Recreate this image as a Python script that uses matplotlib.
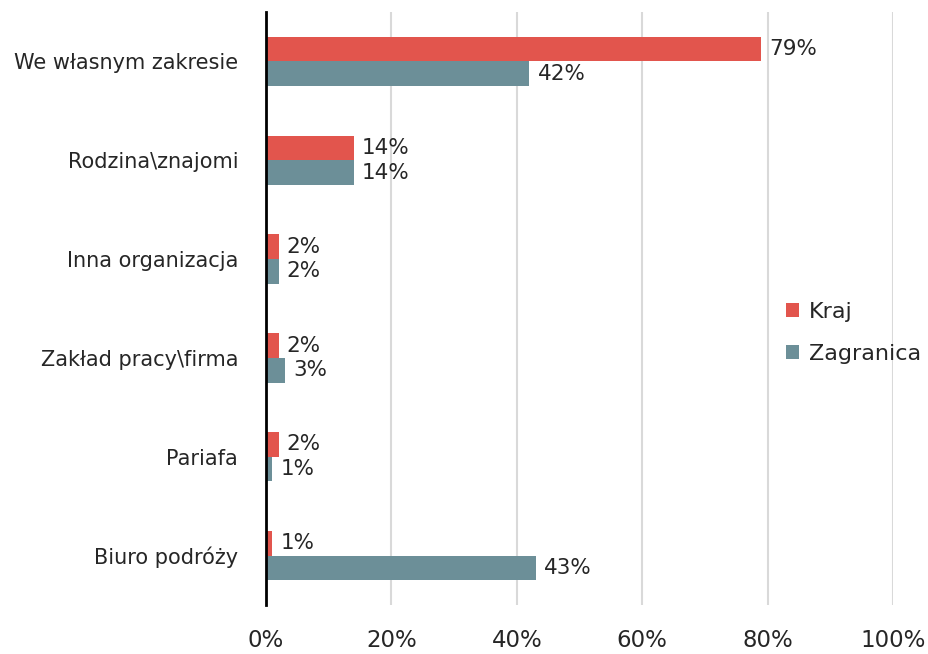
import numpy as np
import matplotlib.pyplot as plt

# dane
categories = ['We własnym zakresie', 'Rodzina\\znajomi', 'Inna organizacja',
              'Zakład pracy\\firma', 'Pariafa', 'Biuro podróży']
kraj = [79, 14, 2, 2, 2, 1]
zagranica = [42, 14, 2, 3, 1, 43]
x_ticks = [0, 20, 40, 60, 80, 100]

col_kraj = '#E2554D'
col_zagr = '#6C8F98'
txt = '#262626'

plt.rcParams['font.family'] = ['DejaVu Sans']

fig = plt.figure(figsize=(9.29, 6.54), dpi=100)
ax = fig.add_axes([266 / 929, 1 - 605 / 654, (893 - 266) / 929, (605 - 12) / 654])

y = np.arange(len(categories))
h = 0.25
b1 = ax.barh(y - h / 2, kraj, height=h, color=col_kraj, label='Kraj', zorder=3)
b2 = ax.barh(y + h / 2, zagranica, height=h, color=col_zagr, label='Zagranica', zorder=3)

for bars, vals in ((b1, kraj), (b2, zagranica)):
    for bar, v in zip(bars, vals):
        ax.annotate(f'{v}%', (bar.get_width(), bar.get_y() + bar.get_height() / 2),
                    xytext=(6, 0), textcoords='offset points', va='center', ha='left',
                    fontsize=15.5, color=txt)

ax.set_xlim(0, 100)
ax.set_ylim(len(categories) - 0.5, -0.5)
ax.set_xticks(x_ticks)
ax.set_xticklabels([f'{t}%' for t in x_ticks], fontsize=16.5, color=txt)
ax.set_yticks(y)
ax.set_yticklabels(categories, fontsize=15, color=txt)
ax.tick_params(length=0)
ax.tick_params(axis='x', pad=17)
ax.tick_params(axis='y', pad=20)

ax.grid(axis='x', color='#D9D9D9', linewidth=1.5, zorder=0)
for s in ('top', 'right', 'bottom'):
    ax.spines[s].set_visible(False)
ax.spines['left'].set_linewidth(2)
ax.spines['left'].set_color('black')
ax.spines['left'].set_zorder(4)

leg = fig.legend(loc='center left', bbox_to_anchor=(766 / 929, 1 - 333 / 654),
                 frameon=False, fontsize=16, handlelength=0.6, handleheight=0.6,
                 handletextpad=0.45, labelspacing=1.0)
for t in leg.get_texts():
    t.set_color(txt)

fig.savefig('out.png', dpi=100)
